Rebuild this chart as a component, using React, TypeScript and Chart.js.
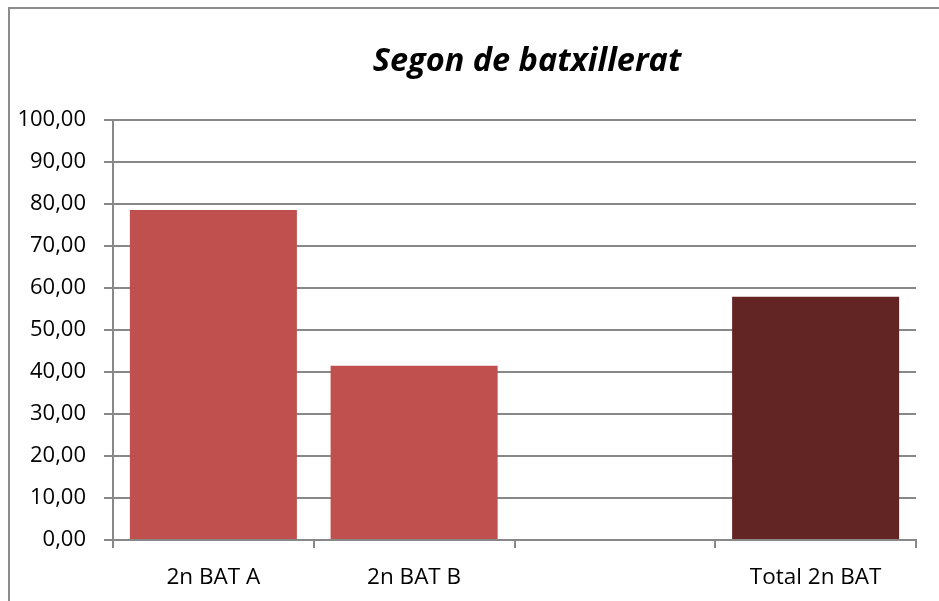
import React, { useEffect, useRef } from 'react';
import { Chart, registerables } from 'chart.js';

Chart.register(...registerables);

const chartTitle = 'Segon de batxillerat';
const categories = ['2n BAT A', '2n BAT B', '', 'Total 2n BAT'];
const values: (number | null)[] = [78.57, 41.5, null, 57.9];
const barColors = ['#C0504D', '#C0504D', '#C0504D', '#632523'];
const yTicks = [0, 10, 20, 30, 40, 50, 60, 70, 80, 90, 100];

const FAMILY = '"Open Sans", sans-serif';
const GRID = '#888888';

export default function App() {
  const ref = useRef<HTMLCanvasElement>(null);

  useEffect(() => {
    if (!ref.current) return;
    const titlePlugin = {
      id: 'customTitle',
      afterDraw(chart: any) {
        const ctx = chart.ctx;
        ctx.save();
        ctx.font = `italic bold 32.5px ${FAMILY}`;
        ctx.fillStyle = '#000';
        ctx.textAlign = 'center';
        ctx.textBaseline = 'alphabetic';
        ctx.fillText(chartTitle, 527, 71);
        ctx.restore();
      },
    };
    const chart = new Chart(ref.current, {
      type: 'bar',
      data: {
        labels: categories,
        datasets: [
          {
            data: values as any,
            backgroundColor: barColors,
            barPercentage: 0.832,
            categoryPercentage: 1,
          },
        ],
      },
      options: {
        animation: false,
        responsive: false,
        maintainAspectRatio: false,
        layout: { padding: { top: 120, right: 23, left: 0, bottom: 0 } },
        plugins: {
          legend: { display: false },
          tooltip: { enabled: false },
          title: { display: false },
        },
        scales: {
          x: {
            grid: {
              display: true,
              drawOnChartArea: false,
              drawTicks: true,
              tickLength: 8,
              color: GRID,
              lineWidth: 2,
              offset: true,
            },
            border: { display: true, color: GRID, width: 2 },
            ticks: {
              color: '#000',
              font: { family: FAMILY, size: 22.5 },
              padding: 16,
              maxRotation: 0,
              autoSkip: false,
            },
            afterFit: (s: any) => {
              s.height = 61;
            },
          },
          y: {
            min: 0,
            max: 100,
            grid: { color: GRID, lineWidth: 2, tickLength: 9 },
            border: { display: true, color: GRID, width: 2 },
            afterBuildTicks: (s: any) => {
              s.ticks = yTicks.map((v) => ({ value: v }));
            },
            ticks: {
              color: '#000',
              font: { family: FAMILY, size: 22 },
              padding: 18,
              callback: (v: any) => Number(v).toFixed(2).replace('.', ','),
            },
            afterFit: (s: any) => {
              s.width = 113;
            },
          },
        },
      },
      plugins: [titlePlugin],
    });
    return () => chart.destroy();
  }, []);

  return (
    <div style={{ position: 'fixed', left: 0, top: 0, width: 939, height: 601, overflow: 'hidden', background: '#fff' }}>
      <div
        style={{
          position: 'absolute',
          left: 8,
          top: 7,
          width: 1000,
          height: 700,
          borderLeft: '2px solid #8c8c8c',
          borderTop: '2px solid #8c8c8c',
        }}
      />
      <canvas ref={ref} width={939} height={601} style={{ position: 'absolute', left: 0, top: 0 }} />
    </div>
  );
}
